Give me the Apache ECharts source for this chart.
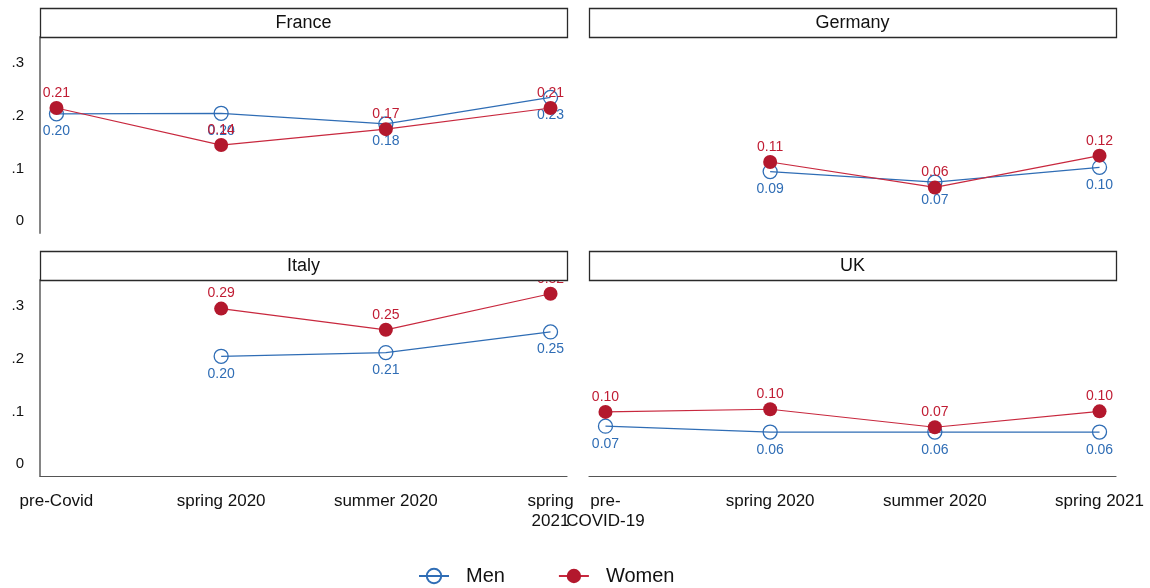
<!DOCTYPE html>
<html>
<head>
<meta charset="utf-8">
<script src="https://cdn.jsdelivr.net/npm/echarts@6/dist/echarts.min.js"></script>
<style>
  html, body { margin: 0; padding: 0; background: #fff; }
  #chart { width: 1150px; height: 588px; }
</style>
</head>
<body>
<div id="chart"></div>
<script>
// Survey waves and their tick labels (left and right columns wrap differently)
const periods = ['pre-Covid', 'spring 2020', 'summer 2020', 'spring 2021'];
const tickLabelsLeft = ['pre-Covid', 'spring 2020', 'summer 2020', 'spring\n2021'];
const tickLabelsRight = ['pre-\nCOVID-19', 'spring 2020', 'summer 2020', 'spring 2021'];
const yTicks = [0, 0.1, 0.2, 0.3];

const countries = ['France', 'Germany', 'Italy', 'UK'];

// Shares by wave (null = wave not surveyed)
const menFrance   = [0.203, 0.204, 0.184, 0.234];
const womenFrance = [0.214, 0.144, 0.174, 0.214];
const menGermany   = [null, 0.094, 0.074, 0.102];
const womenGermany = [null, 0.112, 0.064, 0.124];
const menItaly   = [null, 0.204, 0.211, 0.250];
const womenItaly = [null, 0.294, 0.254, 0.322];
const menUK   = [0.072, 0.061, 0.061, 0.061];
const womenUK = [0.099, 0.104, 0.070, 0.100];

const menSeries = [menFrance, menGermany, menItaly, menUK];
const womenSeries = [womenFrance, womenGermany, womenItaly, womenUK];

const BLUE = '#2f6db5';
const RED = '#b3182d';
const FONT = "'Liberation Sans', Arial, sans-serif";

// Panel layout: 2 x 2 facets
const panelX = [40, 589, 40, 589];
const panelTop = [37, 37, 280, 280];
const panelW = 527, panelH = 196, headerH = 29;

const grids = countries.map((c, i) => ({
  left: panelX[i], top: panelTop[i], width: panelW, height: panelH
}));

const xAxes = countries.map((c, i) => {
  const bottomRow = i >= 2;
  const labels = (i % 2 === 0) ? tickLabelsLeft : tickLabelsRight;
  return {
    type: 'value', gridIndex: i, min: -0.1, max: 3.1,
    splitLine: { show: false },
    axisTick: { show: false },
    axisLine: { show: bottomRow, onZero: false, lineStyle: { color: '#555', width: 1.2 } },
    axisLabel: {
      show: bottomRow,
      customValues: [0, 1, 2, 3],
      formatter: v => labels[Math.round(v)],
      fontFamily: FONT, fontSize: 17, color: '#111',
      lineHeight: 20, margin: 15, align: 'center'
    }
  };
});

const yAxes = countries.map((c, i) => {
  const leftCol = i % 2 === 0;
  return {
    type: 'value', gridIndex: i, min: -0.022, max: 0.348,
    splitLine: { show: false },
    axisTick: { show: false },
    axisLine: { show: leftCol, onZero: false, lineStyle: { color: '#858585', width: 2 } },
    axisLabel: {
      show: leftCol,
      customValues: yTicks,
      formatter: v => (v === 0 ? '0' : v.toFixed(1).replace(/^0/, '')),
      fontFamily: FONT, fontSize: 15, color: '#111', margin: 16
    }
  };
});

const toPoints = arr => periods.map((p, k) => [k, arr[k] === null ? '-' : arr[k]]);
const labelFmt = p => Number(p.value[1]).toFixed(2);

const series = [];
countries.forEach((c, i) => {
  series.push({
    name: 'Men', type: 'line', xAxisIndex: i, yAxisIndex: i,
    data: toPoints(menSeries[i]),
    symbol: 'circle', symbolSize: 14,
    itemStyle: { color: 'rgba(255,255,255,0)', borderColor: BLUE, borderWidth: 1.3 },
    lineStyle: { color: BLUE, width: 1.2 },
    label: { show: true, position: 'bottom', distance: 3, formatter: labelFmt,
             color: BLUE, fontFamily: FONT, fontSize: 14 },
    emphasis: { disabled: true },
    silent: true, animation: false, z: 2
  });
  series.push({
    name: 'Women', type: 'line', xAxisIndex: i, yAxisIndex: i,
    data: toPoints(womenSeries[i]),
    symbol: 'circle', symbolSize: 14,
    itemStyle: { color: RED },
    lineStyle: { color: '#c8283e', width: 1.2 },
    label: { show: true, position: 'top', distance: 1, formatter: labelFmt,
             color: '#c01c33', fontFamily: FONT, fontSize: 14 },
    emphasis: { disabled: true },
    silent: true, animation: false, z: 3
  });
});

// Facet header boxes drawn above the plot so overflowing labels are hidden
const graphics = [];
countries.forEach((c, i) => {
  const y0 = panelTop[i] - headerH;
  graphics.push({
    type: 'rect', z: 100,
    shape: { x: panelX[i] + 0.5, y: y0 + 0.5, width: panelW, height: headerH },
    style: { fill: '#fff', stroke: '#2a2a2a', lineWidth: 1.3 }
  });
  graphics.push({
    type: 'text', z: 101,
    x: panelX[i] + panelW / 2, y: y0 + headerH / 2 + 1,
    style: { text: c, align: 'center', verticalAlign: 'middle',
             fontFamily: FONT, fontSize: 18, fill: '#111' }
  });
});

const chart = echarts.init(document.getElementById('chart'), null, { renderer: 'canvas' });
chart.setOption({
  backgroundColor: '#fff',
  animation: false,
  grid: grids,
  xAxis: xAxes,
  yAxis: yAxes,
  series: series,
  graphic: graphics,
  legend: {
    data: ['Men', 'Women'],
    left: 418, top: 566, padding: 0,
    itemWidth: 30, itemHeight: 18, itemGap: 53,
    textStyle: { fontFamily: FONT, fontSize: 20, color: '#111', padding: [0, 0, 0, 12] }
  }
});
</script>
</body>
</html>
